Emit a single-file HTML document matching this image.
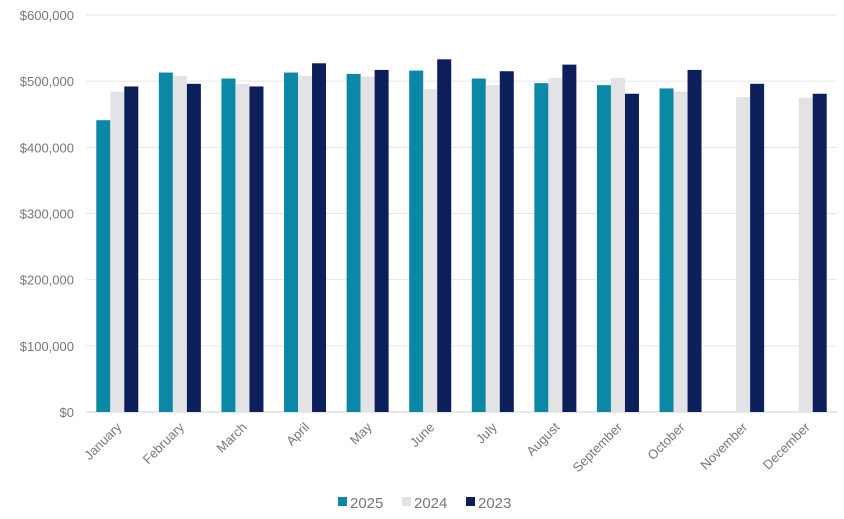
<!DOCTYPE html>
<html><head><meta charset="utf-8"><style>
body{margin:0;background:#fff;font-family:"Liberation Sans",sans-serif;}
svg text{font-family:"Liberation Sans",sans-serif;fill:#777;}
</style></head><body>
<svg id="chart" width="844" height="514" xmlns="http://www.w3.org/2000/svg"></svg>
<script>
const categories=["January","February","March","April","May","June","July","August","September","October","November","December"];
const series2025=[441000,513000,504000,513000,511000,516000,504000,497000,494000,489000,null,null];
const series2024=[484000,508000,496000,508000,507000,488000,494000,505000,505000,484000,476000,475000];
const series2023=[492000,496000,492000,527000,517000,533000,515000,525000,481000,517000,496000,481000];
const yTicks=[0,100000,200000,300000,400000,500000,600000];
const seriesNames=["2025","2024","2023"];
const colors=["#0b88a5","#e3e3e5","#0d1f5b"];
const svg=document.getElementById('chart');
const NS="http://www.w3.org/2000/svg";
const L=86,R=837,T=15,B=412,yMax=600000;
const y=v=>B-(v/yMax)*(B-T);
const gw=(R-L)/categories.length;
const x=i=>L+gw*i+gw/2;
function mk(tag,attrs){const e=document.createElementNS(NS,tag);for(const k in attrs)e.setAttribute(k,attrs[k]);svg.appendChild(e);return e;}
yTicks.forEach(t=>{
  const g=mk('line',{x1:L,x2:R,y1:y(t),y2:y(t),stroke:t===0?'#cfcfcf':'#e6e6e6','stroke-width':1});
  
  
  const tx=mk('text',{x:74,y:y(t)+5,'text-anchor':'end','font-size':13});
  tx.textContent='$'+t.toLocaleString('en-US');
  
  
});
const all=[series2025,series2024,series2023];
const bw=14;
categories.forEach((c,i)=>{
  all.forEach((s,j)=>{
    if(s[i]==null)return;
    const r=mk('rect',{x:x(i)-21+j*bw,y:y(s[i]),width:bw,height:B-y(s[i]),fill:colors[j]});
    
    
  });
  const t=mk('text',{x:x(i)+5,y:428,'text-anchor':'end','font-size':13,transform:`rotate(-45 ${x(i)+5} 428)`});
  t.textContent=c;
  
  
});
const lx=[338,402,466];
seriesNames.forEach((n,j)=>{
  const r=mk('rect',{x:lx[j],y:497,width:9,height:9,fill:colors[j]});
  
  
  const t=mk('text',{x:lx[j]+12,y:508,'font-size':15,fill:'#666'});
  t.textContent=n;
  
  
});
</script>
</body></html>
